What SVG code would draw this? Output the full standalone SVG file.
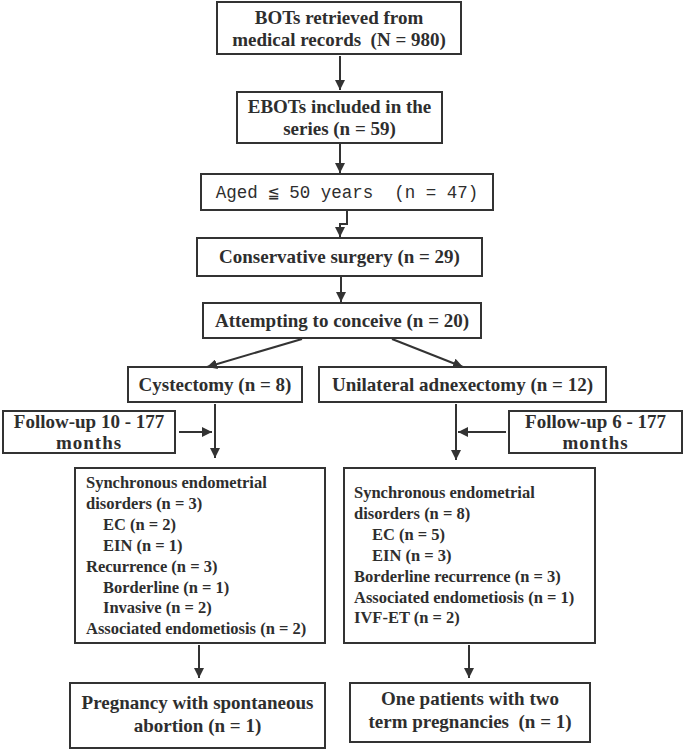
<svg xmlns="http://www.w3.org/2000/svg" width="685" height="750" viewBox="0 0 685 750">
<defs>
<marker id="ah" viewBox="0 0 10 10" refX="10" refY="5" markerWidth="10" markerHeight="10" markerUnits="userSpaceOnUse" orient="auto">
<path d="M0,0 L10,5 L0,10 z" fill="#333"/>
</marker>
<style>
rect{fill:#fff;stroke:#333;stroke-width:2}
text{font-family:"Liberation Serif","Times New Roman",serif;font-weight:bold;fill:#2e2e2e}
.big{font-size:19px;text-anchor:middle}
.sm{font-size:16.5px}
.mono{font-family:"Liberation Mono","DejaVu Sans Mono",monospace;font-weight:normal;font-size:17.5px;text-anchor:middle;white-space:pre}
.c line,.c polyline{stroke:#333;stroke-width:2;fill:none;marker-end:url(#ah)}
</style>
</defs>
<rect x="0" y="0" width="685" height="750" style="fill:#fff;stroke:none"/>
<g id="n1"><rect x="217" y="2" width="244" height="52"/><text class="big" x="339" y="24">BOTs retrieved from</text><text class="big" x="339" y="46" xml:space="preserve">medical records  (N = 980)</text></g>
<g id="n2"><rect x="237" y="92" width="205" height="51"/><text class="big" x="339.5" y="113">EBOTs included in the</text><text class="big" x="339.5" y="135">series (n = 59)</text></g>
<g id="n3"><rect x="201" y="174" width="292" height="36"/><text class="mono" x="347" y="198" xml:space="preserve">Aged ≦ 50 years  (n = 47)</text></g>
<g id="n4"><rect x="197" y="238" width="285" height="38"/><text class="big" x="339.5" y="263">Conservative surgery (n = 29)</text></g>
<g id="n5"><rect x="203" y="303" width="278" height="35"/><text class="big" x="342" y="327">Attempting to conceive (n = 20)</text></g>
<g id="n6"><rect x="128" y="367" width="174" height="35"/><text class="big" x="215" y="391">Cystectomy (n = 8)</text></g>
<g id="n7"><rect x="319" y="367" width="287" height="35"/><text class="big" x="462.5" y="391">Unilateral adnexectomy (n = 12)</text></g>
<g id="n8"><rect x="3" y="411" width="172" height="42"/><text class="big" x="89" y="428">Follow-up 10 - 177</text><text class="big" x="89" y="449" letter-spacing="1">months</text></g>
<g id="n9"><rect x="509" y="411" width="173" height="42"/><text class="big" x="595.5" y="428">Follow-up 6 - 177</text><text class="big" x="595.5" y="449" letter-spacing="1">months</text></g>
<g id="n10"><rect x="75" y="468" width="250" height="175"/>
<text class="sm" x="86" y="488">Synchronous endometrial</text>
<text class="sm" x="86" y="509">disorders (n = 3)</text>
<text class="sm" x="103" y="530">EC (n = 2)</text>
<text class="sm" x="103" y="551">EIN (n = 1)</text>
<text class="sm" x="86" y="572">Recurrence (n = 3)</text>
<text class="sm" x="103" y="593">Borderline (n = 1)</text>
<text class="sm" x="103" y="613">Invasive (n = 2)</text>
<text class="sm" x="86" y="634">Associated endometiosis (n = 2)</text>
</g>
<g id="n11"><rect x="344" y="468" width="251" height="175"/>
<text class="sm" x="354" y="498">Synchronous endometrial</text>
<text class="sm" x="354" y="519">disorders (n = 8)</text>
<text class="sm" x="372" y="540">EC (n = 5)</text>
<text class="sm" x="372" y="561">EIN (n = 3)</text>
<text class="sm" x="354" y="582">Borderline recurrence (n = 3)</text>
<text class="sm" x="354" y="603">Associated endometiosis (n = 1)</text>
<text class="sm" x="354" y="623">IVF-ET (n = 2)</text>
</g>
<g id="n12"><rect x="70" y="683" width="255" height="65"/><text class="big" x="197.5" y="709">Pregnancy with spontaneous</text><text class="big" x="197.5" y="732">abortion (n = 1)</text></g>
<g id="n13"><rect x="350" y="683" width="240" height="59"/><text class="big" x="470" y="705">One patients with two</text><text class="big" x="470" y="728" xml:space="preserve">term pregnancies  (n = 1)</text></g>
<g id="connectors" class="c">
<line x1="340" y1="56" x2="340" y2="90"/>
<line x1="340" y1="144" x2="340" y2="173"/>
<polyline points="347,211 347,224 340,224 340,237"/>
<line x1="341" y1="277" x2="341" y2="302"/>
<line x1="302" y1="339" x2="207" y2="367"/>
<line x1="392" y1="339" x2="463" y2="367"/>
<line x1="215" y1="404" x2="215" y2="458"/>
<line x1="179" y1="432" x2="212" y2="432"/>
<line x1="456" y1="404" x2="456" y2="460"/>
<line x1="506" y1="432" x2="458" y2="432"/>
<line x1="199" y1="645" x2="199" y2="678"/>
<line x1="469" y1="645" x2="469" y2="678"/>
</g>
</svg>
